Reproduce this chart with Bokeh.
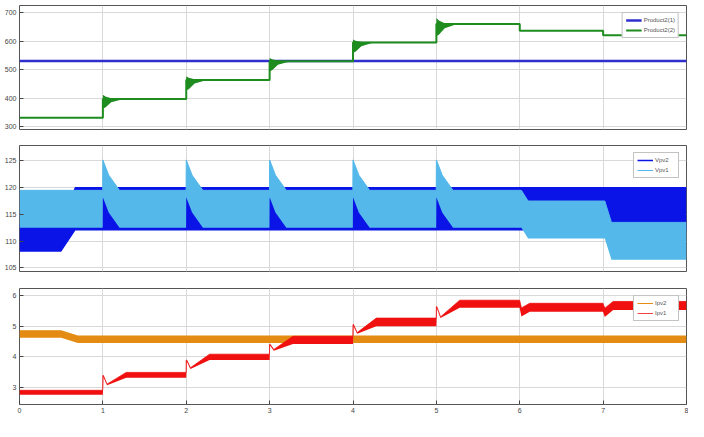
from bokeh.plotting import figure
from bokeh.layouts import column
from bokeh.models import FixedTicker, Range1d, Legend, LegendItem
from bokeh.embed import file_html
from bokeh.resources import INLINE

# ---------------- data ----------------
x_ticks = [0, 1, 2, 3, 4, 5, 6, 7, 8]
x_end = 8

# Panel 1 : Product2(1), Product2(2)
p1_y_ticks = [300, 400, 500, 600, 700]
product21_x = [0, 8]
product21_y = [530, 530]
green_step_t = [1, 2, 3, 4, 5, 6, 7]
green_levels = [331, 397, 464, 529, 595, 660, 636, 621]
green_peak_t = [1, 2, 3, 4, 5]
green_peaks = [412, 477, 541, 606, 681]
green_dips = [364, 428, 494, 559, 618]

# Panel 2 : Vpv2, Vpv1
p2_y_ticks = [105, 110, 115, 120, 125]
vpv2_x = [0, 0.5, 0.67, 8]
vpv2_lo = [108, 108, 112, 112]
vpv2_hi = [113, 113, 120, 120]
vpv1_base_lo = 112.5
vpv1_base_hi = 119.5
vpv1_spike_t = [1, 2, 3, 4, 5]
vpv1_spike_lo = 118.2
vpv1_spike_hi = 125.2
vpv1_drop_t = [6, 7]
vpv1_drop_lo = [110.5, 106.5]
vpv1_drop_hi = [117.5, 113.5]

# Panel 3 : Ipv2, Ipv1
p3_y_ticks = [3, 4, 5, 6]
ipv2_x = [0, 0.5, 0.7, 8]
ipv2_lo = [4.62, 4.62, 4.45, 4.45]
ipv2_hi = [4.85, 4.85, 4.68, 4.68]
ipv1_step_t = [1, 2, 3, 4, 5, 6, 7]
ipv1_lo = [2.78, 3.33, 3.90, 4.42, 5.00, 5.60, 5.47, 5.52]
ipv1_hi = [2.92, 3.50, 4.09, 4.67, 5.26, 5.84, 5.74, 5.80]
ipv1_peaks = [3.40, 3.90, 4.41, 5.05, 5.63]
ipv1_dips = [3.08, 3.61, 4.20, 4.75, 5.26, 5.31, 5.30]

# ---------------- styles ----------------
FONT = "Liberation Sans"
C_BLUE = "#2f2fd0"
C_GREEN = "#1e8c1e"
C_DBLUE = "#0a14e6"
C_LBLUE = "#55b8ea"
C_ORANGE = "#e38b12"
C_RED = "#f01010"
GRID = "#d9d9d9"


def make_fig(height, top, bottom, y_range, y_ticks, show_x_labels):
    p = figure(width=688, height=height, output_backend="svg", toolbar_location=None,
               x_range=Range1d(0, x_end), y_range=Range1d(*y_range),
               min_border_left=19, min_border_right=2,
               min_border_top=top, min_border_bottom=bottom)
    p.outline_line_color = "#555555"
    p.outline_line_width = 1
    p.background_fill_color = "white"
    p.border_fill_color = "white"
    p.xaxis.ticker = FixedTicker(ticks=x_ticks)
    p.yaxis.ticker = FixedTicker(ticks=y_ticks)
    for ax in (p.xaxis[0], p.yaxis[0]):
        ax.axis_line_color = None
        ax.major_tick_in = 4
        ax.major_tick_out = 0
        ax.minor_tick_line_color = None
        ax.major_tick_line_color = "#444444"
        ax.major_label_text_font = FONT
        ax.major_label_text_font_size = "7px"
        ax.major_label_text_color = "#444444"
        ax.major_label_standoff = 3
    if not show_x_labels:
        p.xaxis.visible = False
    p.xgrid.grid_line_color = GRID
    p.ygrid.grid_line_color = GRID
    return p


def add_legend(p, items, margin):
    lg = Legend(items=items, location="top_right", margin=margin,
                label_text_font=FONT, label_text_font_size="6px",
                label_text_color="#555555", label_height=8, label_standoff=2,
                glyph_width=16, glyph_height=8, spacing=2, padding=3,
                border_line_color="#888888", border_line_width=1,
                background_fill_color="white", background_fill_alpha=1.0)
    p.add_layout(lg)


# ---------------- Panel 1 ----------------
p1 = make_fig(137, 5, 8, (290, 725), p1_y_ticks, False)
r_p21 = p1.line(product21_x, product21_y, line_color=C_BLUE, line_width=2.5)

gx = [0]
gy = [green_levels[0]]
for i, t in enumerate(green_step_t):
    gx += [t, t]
    gy += [green_levels[i], green_levels[i + 1]]
gx.append(x_end)
gy.append(green_levels[-1])

tr_dx = [0, 0.03, 0.1, 0.25]
up_frac = [1.0, 0.6, 0.15, 0.0]
lo_frac = [1.0, 0.9, 0.35, 0.0]
for t, pk, dp in zip(green_peak_t, green_peaks, green_dips):
    lvl = green_levels[green_step_t.index(t) + 1]
    p1.varea(x=[t + d for d in tr_dx],
             y1=[lvl - f * (lvl - dp) for f in lo_frac],
             y2=[lvl + f * (pk - lvl) for f in up_frac],
             fill_color=C_GREEN)
r_p22 = p1.line(gx, gy, line_color=C_GREEN, line_width=2)
add_legend(p1, [LegendItem(label="Product2(1)", renderers=[r_p21]),
                LegendItem(label="Product2(2)", renderers=[r_p22])], 7)

# ---------------- Panel 2 ----------------
p2 = make_fig(143, 8, 9, (104.3, 127.9), p2_y_ticks, False)
p2.varea(x=vpv2_x, y1=vpv2_lo, y2=vpv2_hi, fill_color=C_DBLUE)
r_v2 = p2.line(vpv2_x, vpv2_hi, line_color=C_DBLUE, line_width=1.5)

sp_dx = [-0.002, 0, 0.07, 0.2]
sp_frac = [0.0, 1.0, 0.5, 0.0]
v1x = [0]
v1lo = [vpv1_base_lo]
v1hi = [vpv1_base_hi]
for t in vpv1_spike_t:
    for d, f in zip(sp_dx, sp_frac):
        v1x.append(t + d)
        v1lo.append(vpv1_base_lo + f * (vpv1_spike_lo - vpv1_base_lo))
        v1hi.append(vpv1_base_hi + f * (vpv1_spike_hi - vpv1_base_hi))
prev_lo, prev_hi = vpv1_base_lo, vpv1_base_hi
for t, lo, hi in zip(vpv1_drop_t, vpv1_drop_lo, vpv1_drop_hi):
    v1x += [t + 0.02, t + 0.1]
    v1lo += [prev_lo, lo]
    v1hi += [prev_hi, hi]
    prev_lo, prev_hi = lo, hi
v1x.append(x_end)
v1lo.append(prev_lo)
v1hi.append(prev_hi)
p2.varea(x=v1x, y1=v1lo, y2=v1hi, fill_color=C_LBLUE)
r_v1 = p2.line(v1x, v1hi, line_color=C_LBLUE, line_width=1)
add_legend(p2, [LegendItem(label="Vpv2", renderers=[r_v2]),
                LegendItem(label="Vpv1", renderers=[r_v1])], 7)

# ---------------- Panel 3 ----------------
p3 = make_fig(141, 8, 17, (2.46, 6.22), p3_y_ticks, True)
p3.varea(x=ipv2_x, y1=ipv2_lo, y2=ipv2_hi, fill_color=C_ORANGE)
r_i2 = p3.line(ipv2_x, ipv2_hi, line_color=C_ORANGE, line_width=1)

ix = [0]
ilo = [ipv1_lo[0]]
ihi = [ipv1_hi[0]]
for i, t in enumerate(ipv1_step_t):
    ix.append(t - 0.002)
    ilo.append(ipv1_lo[i])
    ihi.append(ipv1_hi[i])
    if i < len(ipv1_peaks):
        pk = ipv1_peaks[i]
        dp = ipv1_dips[i]
        ix += [t, t + 0.006, t + 0.05, t + 0.28]
        ilo += [ipv1_lo[i], pk - 0.04, dp, ipv1_lo[i + 1]]
        ihi += [pk, pk, dp + 0.04, ipv1_hi[i + 1]]
    else:
        dp = ipv1_dips[i]
        ix += [t + 0.02, t + 0.12]
        ilo += [dp, ipv1_lo[i + 1]]
        ihi += [dp + 0.28, ipv1_hi[i + 1]]
ix.append(x_end)
ilo.append(ipv1_lo[-1])
ihi.append(ipv1_hi[-1])
p3.varea(x=ix, y1=ilo, y2=ihi, fill_color=C_RED)
r_i1 = p3.line(ix, ihi, line_color=C_RED, line_width=0.8)
add_legend(p3, [LegendItem(label="Ipv2", renderers=[r_i2]),
                LegendItem(label="Ipv1", renderers=[r_i1])], 7)

layout = column(p1, p2, p3, spacing=0)
open("out.html", "w").write(file_html(layout, INLINE))
